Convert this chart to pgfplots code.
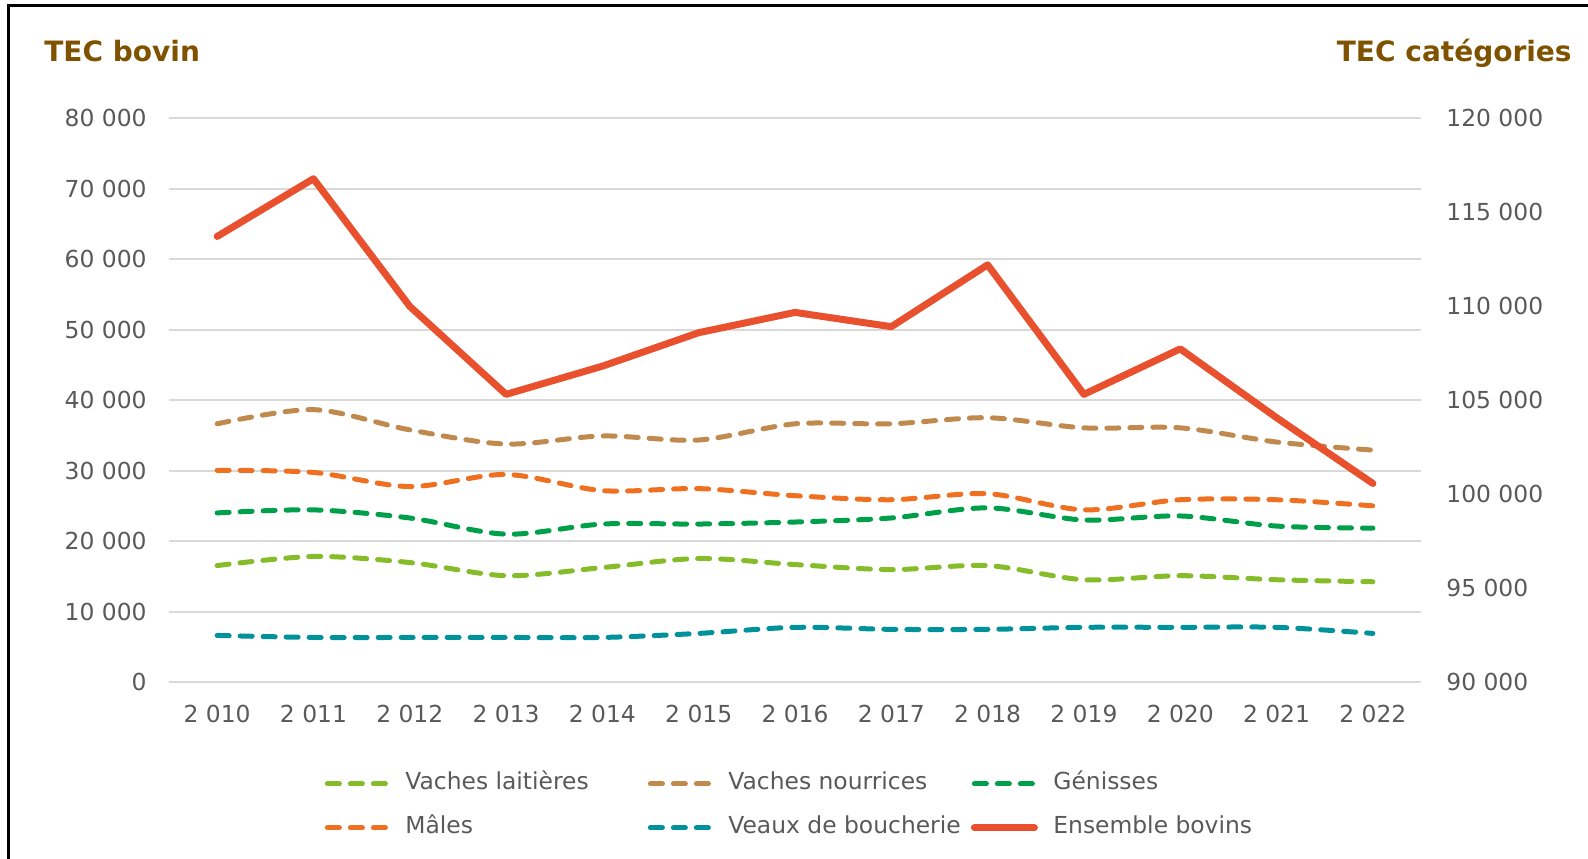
\documentclass[border=0pt]{standalone}
\usepackage{fontspec}
\setmainfont{DejaVu Sans}
\usepackage{pgfplots}
\pgfplotsset{compat=1.18}
\definecolor{vl}{HTML}{86BC2A}
\definecolor{vn}{HTML}{C08A4E}
\definecolor{gen}{HTML}{00A04A}
\definecolor{mal}{HTML}{F07021}
\definecolor{veau}{HTML}{00929A}
\definecolor{ens}{HTML}{E8502E}
\definecolor{gridc}{HTML}{D9D9D9}
\definecolor{labc}{HTML}{595959}
\definecolor{titc}{HTML}{7F5200}
\newcommand{\lf}{\fontsize{11.7}{14}\selectfont}
\tikzset{dsh/.style={line width=2.5pt, line cap=round, dash pattern=on 6pt off 5.5pt, smooth, tension=0.5}}
\begin{document}
\begin{tikzpicture}
\useasboundingbox (0,0) rectangle (794pt,429pt);
\draw[line width=1.5pt] (4pt,-2pt) -- (4pt,426pt) -- (800pt,426pt);
\node[anchor=west, inner sep=0pt, text=titc, font=\bfseries\fontsize{14}{16}\selectfont] at (22pt,403.5pt) {TEC bovin};
\node[anchor=east, inner sep=0pt, text=titc, font=\bfseries\fontsize{14}{16}\selectfont] at (786pt,402.5pt) {TEC catégories};
\begin{axis}[
  at={(84.5pt,88pt)}, anchor=south west,
  scale only axis, width=626pt, height=282pt,
  xmin=2009.5, xmax=2022.5, ymin=0, ymax=80000,
  xtick={2010,2011,...,2022}, ytick={0,10000,...,80000},
  axis line style={draw=none}, major tick length=0pt,
  ymajorgrids, grid style={color=gridc, line width=1pt},
  /pgf/number format/fixed,
  /pgf/number format/1000 sep={\ },
  /pgf/number format/assume math mode=true,
  scaled y ticks=false, scaled x ticks=false,
  tick label style={font=\lf, text=labc, inner sep=0pt},
  yticklabel style={xshift=-11pt},
  xticklabel style={yshift=-11.5pt},
  legend columns=3,
  legend style={at={(0.1222,-0.1587)}, anchor=north west, draw=none, fill=none,
    inner sep=0pt, font=\lf, text=labc, row sep=10pt,
    nodes={inner sep=0pt, text height=9pt, text depth=3pt},
    /tikz/every odd column/.append style={column sep=6.5pt},
    /tikz/every even column/.append style={column sep=0pt}},
  legend image code/.code={\path (0pt,0pt) (32.5pt,0pt); \draw[#1] (1.25pt,0pt) -- (31.25pt,0pt);},
]
\addplot[dsh, vl] coordinates {(2010,16517) (2011,17810) (2012,16948) (2013,15081) (2014,16230) (2015,17523) (2016,16661) (2017,15943) (2018,16517) (2019,14506) (2020,15081) (2021,14506) (2022,14219)};
\addlegendentry{\makebox[120pt][l]{Vaches laitières}}
\addplot[dsh, vn] coordinates {(2010,36625) (2011,38636) (2012,35763) (2013,33752) (2014,34901) (2015,34327) (2016,36625) (2017,36625) (2018,37487) (2019,36050) (2020,36050) (2021,34040) (2022,32890)};
\addlegendentry{\makebox[120pt][l]{Vaches nourrices}}
\addplot[dsh, gen] coordinates {(2010,23986) (2011,24417) (2012,23268) (2013,20970) (2014,22406) (2015,22406) (2016,22693) (2017,23268) (2018,24704) (2019,22980) (2020,23555) (2021,22118) (2022,21831)};
\addlegendentry{\makebox[120pt][l]{Génisses}}
\addplot[dsh, mal] coordinates {(2010,30018) (2011,29731) (2012,27720) (2013,29443) (2014,27146) (2015,27433) (2016,26427) (2017,25853) (2018,26715) (2019,24417) (2020,25853) (2021,25853) (2022,24991)};
\addlegendentry{\makebox[120pt][l]{Mâles}}
\addplot[dsh, veau] coordinates {(2010,6607) (2011,6320) (2012,6320) (2013,6320) (2014,6320) (2015,6894) (2016,7756) (2017,7469) (2018,7469) (2019,7756) (2020,7756) (2021,7756) (2022,6894)};
\addlegendentry{\makebox[120pt][l]{Veaux de boucherie}}
\addlegendimage{ens, line width=3.5pt, line cap=round}
\addlegendentry{\makebox[120pt][l]{Ensemble bovins}}
\end{axis}
\begin{axis}[
  at={(84.5pt,88pt)}, anchor=south west,
  scale only axis, width=626pt, height=282pt,
  xmin=2009.5, xmax=2022.5, ymin=90000, ymax=120000,
  ytick={90000,95000,...,120000},
  hide x axis, yticklabel pos=right,
  axis line style={draw=none}, major tick length=0pt,
  /pgf/number format/fixed,
  /pgf/number format/1000 sep={\ },
  /pgf/number format/assume math mode=true,
  scaled y ticks=false,
  tick label style={font=\lf, text=labc, inner sep=0pt},
  yticklabel style={xshift=12.5pt},
]
\addplot[ens, line width=3.5pt, line join=round, line cap=round] coordinates {(2010,113700) (2011,116770) (2012,109980) (2013,105300) (2014,106800) (2015,108580) (2016,109660) (2017,108900) (2018,112190) (2019,105300) (2020,107720) (2021,104060) (2022,100560)};
\end{axis}
\end{tikzpicture}
\end{document}
